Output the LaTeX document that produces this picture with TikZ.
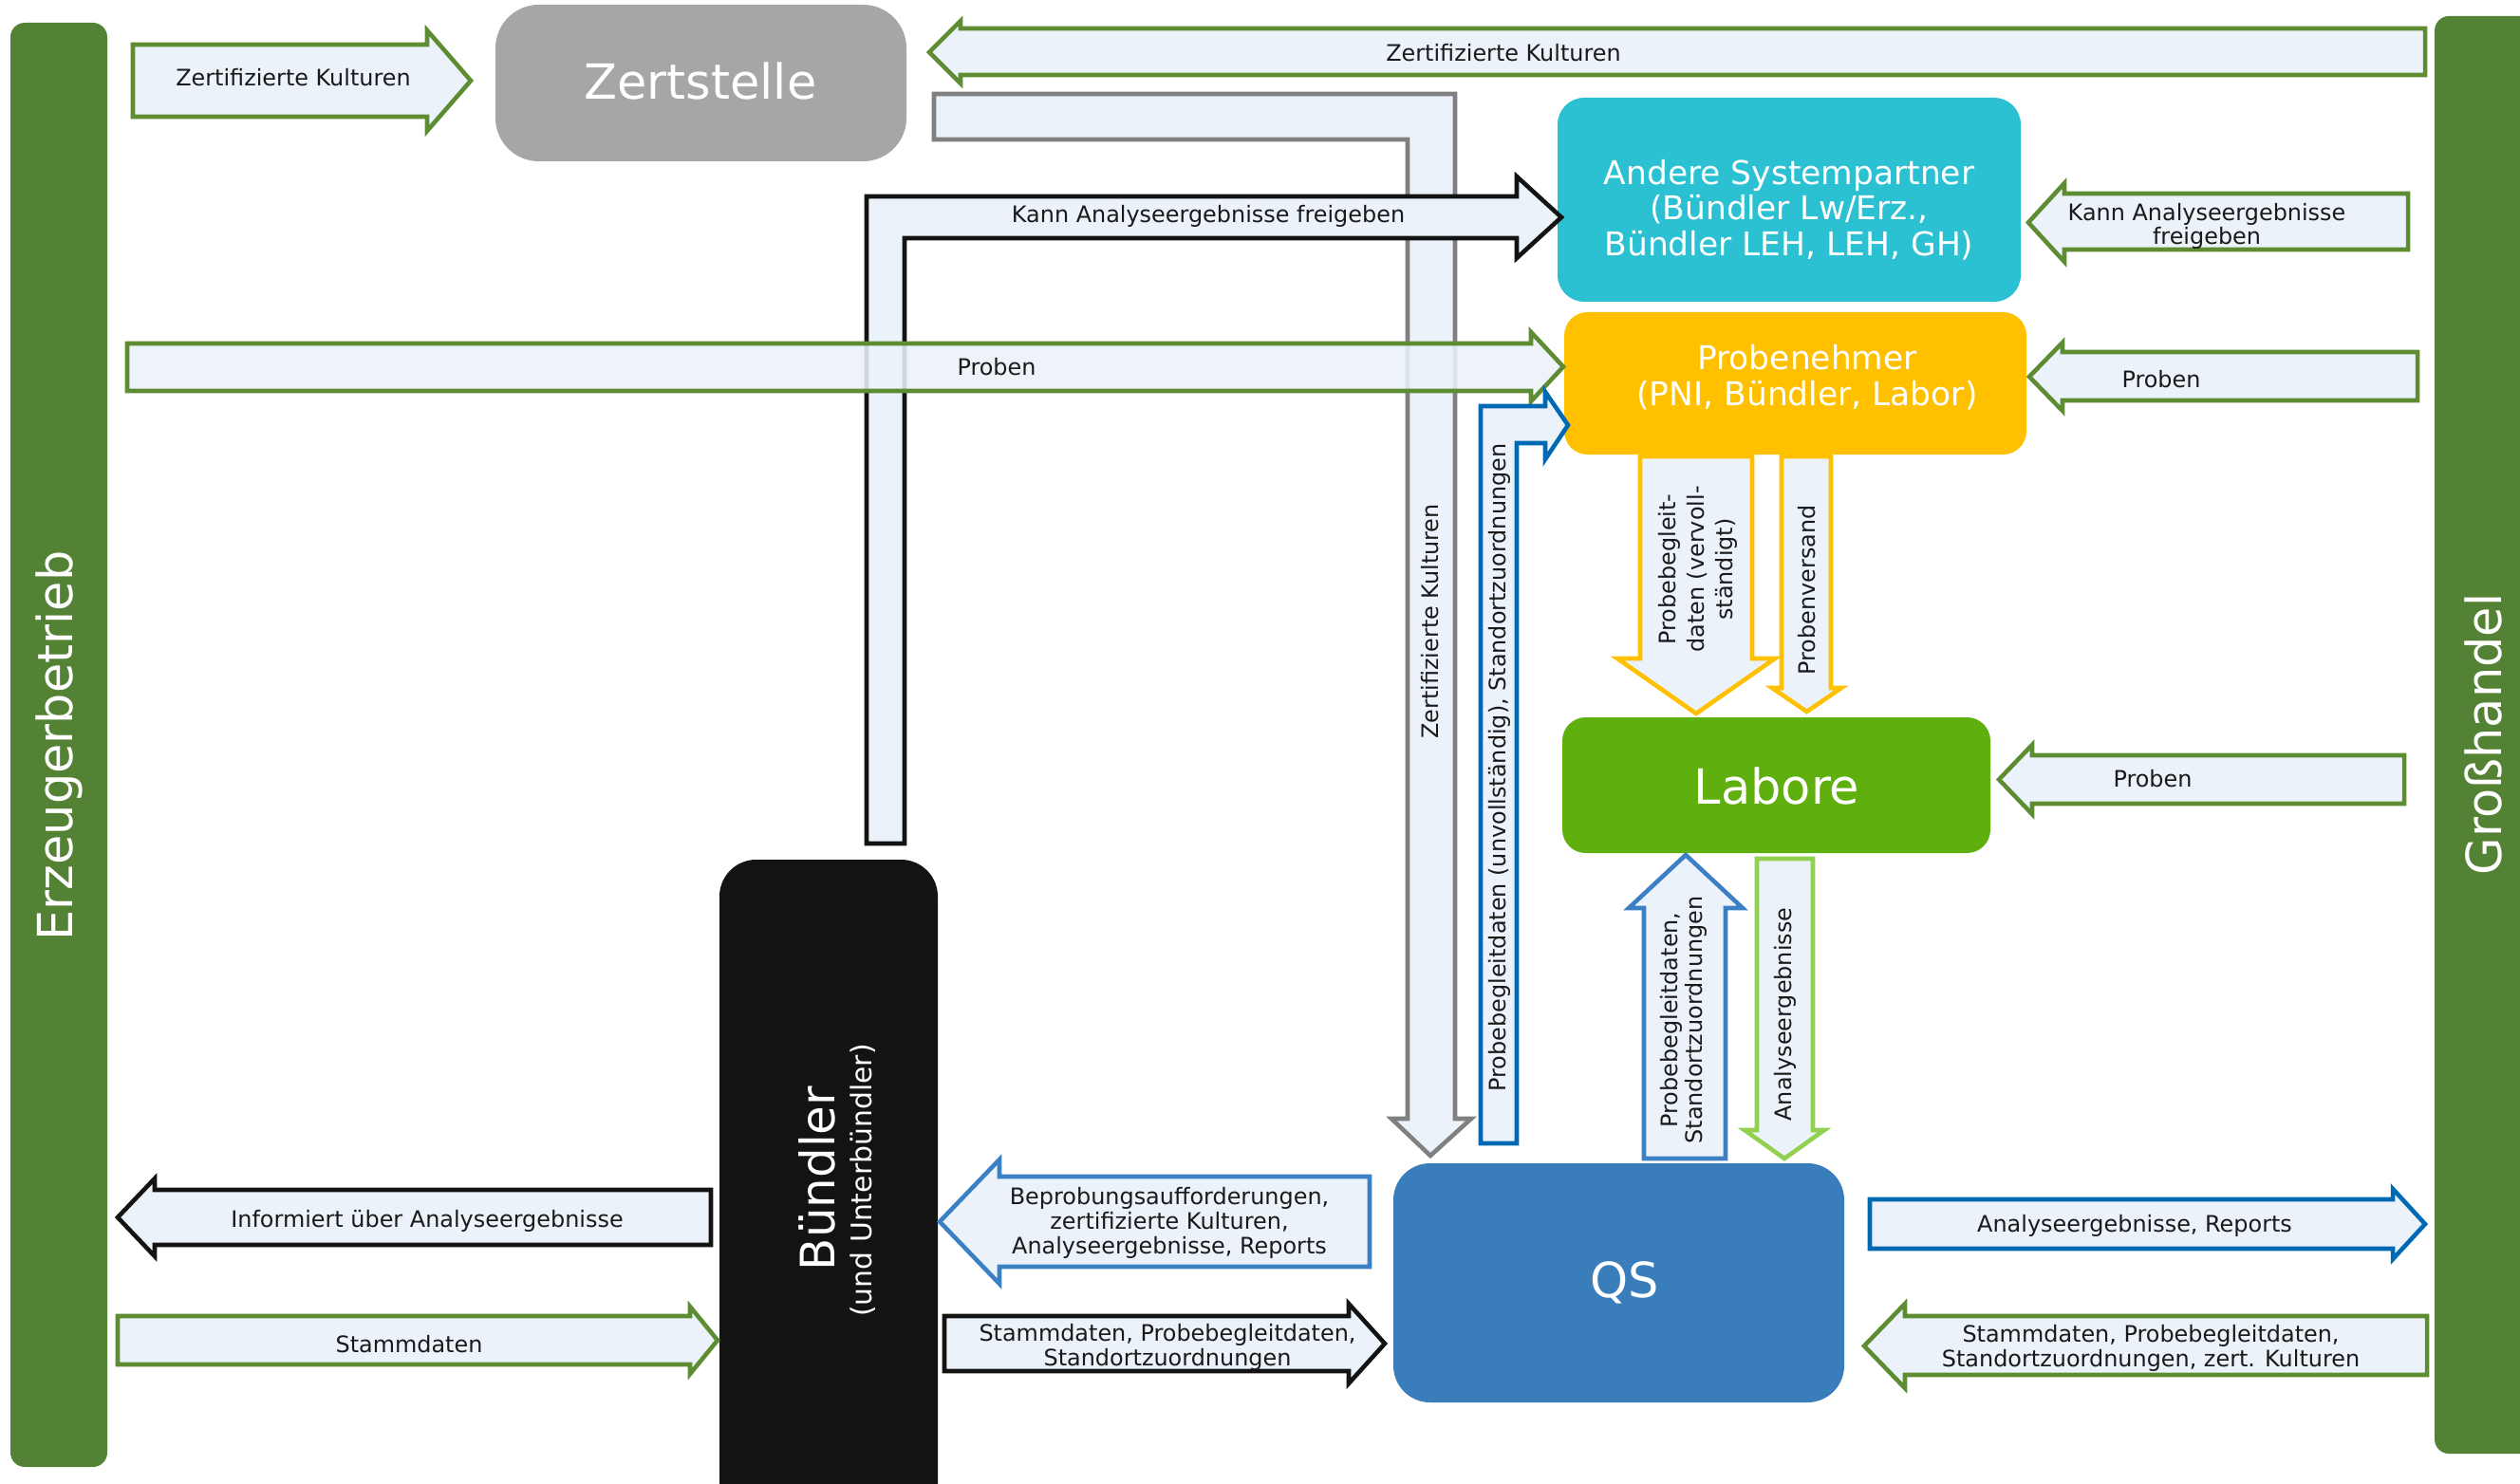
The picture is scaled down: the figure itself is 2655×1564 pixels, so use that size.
\documentclass[tikz,border=0pt]{standalone}
\usepackage{fontspec}
\setmainfont{DejaVu Sans}
\definecolor{bargreen}{HTML}{548235}
\definecolor{arrgreen}{HTML}{5E8C33}
\definecolor{arrfill}{HTML}{EBF2F9}
\definecolor{zgray}{HTML}{A6A6A6}
\definecolor{agray}{HTML}{808080}
\definecolor{cyanbox}{HTML}{2BC1D2}
\definecolor{orangebox}{HTML}{FFC000}
\definecolor{labgreen}{HTML}{5FB00F}
\definecolor{qsblue}{HTML}{3A7DBB}
\definecolor{darkblue}{HTML}{0069B4}
\definecolor{midblue}{HTML}{3B80C4}
\definecolor{lightgreen}{HTML}{92D050}
\definecolor{blackbox}{HTML}{131313}
\definecolor{txt}{HTML}{1A1A1A}
\newcommand\lbl{\fontsize{6.8}{7.3}\selectfont}
\newcommand\bigtxt{\fontsize{14.5}{16}\selectfont}
\newcommand\midtxt{\fontsize{9.8}{10.6}\selectfont}
% horizontal fat arrow: style, tail x, base x, tip x, body top, body bottom, head top, head bottom
\newcommand\harr[8]{\draw[#1] (#2,#5) -- (#3,#5) -- (#3,#7) -- (#4,{(#7+#8)/2}) -- (#3,#8) -- (#3,#6) -- (#2,#6) -- cycle;}
% vertical fat arrow: style, tail y, base y, tip y, body left, body right, head left, head right
\newcommand\varr[8]{\draw[#1] (#5,#2) -- (#5,#3) -- (#7,#3) -- ({(#7+#8)/2},#4) -- (#8,#3) -- (#6,#3) -- (#6,#2) -- cycle;}
\begin{document}
\begin{tikzpicture}[x=0.01cm,y=-0.01cm,
  fat/.style={fill=arrfill,line width=1.3pt,line join=miter,miter limit=10},
  fgreen/.style={fat,draw=arrgreen},
  fblack/.style={fat,draw=blackbox},
  fgray/.style={fat,draw=agray},
  fdblue/.style={fat,draw=darkblue},
  fmblue/.style={fat,draw=midblue},
  fyellow/.style={fat,draw=orangebox},
  flgreen/.style={fat,draw=lightgreen},
  lab/.style={font=\lbl,text=txt,inner sep=0pt,align=center},
  vlab/.style={lab,rotate=90},
  boxtxt/.style={text=white,align=center,inner sep=0pt}]
\useasboundingbox (0,0) rectangle (2655,1564);
\clip (0,0) rectangle (2655,1564);
\fill[white] (0,0) rectangle (2655,1564);

% side bars
\fill[bargreen,rounded corners=4.3pt] (11,24) rectangle (113,1546);
\node[boxtxt,font=\bigtxt,rotate=90] (erz) at (62,786) {Erzeugerbetrieb};
\fill[bargreen,rounded corners=4.3pt] (2565,17) rectangle (2700,1532);
\node[boxtxt,font=\bigtxt,rotate=90] (gh) at (2616,774) {Großhandel};

% boxes
\fill[zgray,rounded corners=13pt] (522,5) rectangle (955,170);
\node[boxtxt,font=\bigtxt] (zert) at (738,85) {Zertstelle};
\fill[cyanbox,rounded corners=8pt] (1641,103) rectangle (2129,318);
\node[boxtxt,font=\midtxt] (andere) at (1885,221) {Andere Systempartner\\(Bündler Lw/Erz.,\\Bündler LEH, LEH, GH)};
\fill[orangebox,rounded corners=7pt] (1648,329) rectangle (2135,479);
\node[boxtxt,font=\fontsize{9.8}{10.8}\selectfont] (probe) at (1904,398) {Probenehmer\\(PNI, Bündler, Labor)};
\fill[labgreen,rounded corners=7pt] (1646,756) rectangle (2097,899);
\node[boxtxt,font=\bigtxt] (labore) at (1872,828) {Labore};
\fill[qsblue,rounded corners=11pt] (1468,1226) rectangle (1943,1478);
\node[boxtxt,font=\bigtxt] (qs) at (1712,1352) {QS};
\fill[blackbox,rounded corners=11pt] (758,906) rectangle (988,1620);
\node[boxtxt,font=\fontsize{14.2}{15}\selectfont,rotate=90] (buendler) at (861,1242) {Bündler};
\node[boxtxt,font=\fontsize{8.5}{9}\selectfont,rotate=90] (unter) at (909,1244) {(und Unterbündler)};

% top arrows
\harr{fgreen}{140}{450}{496}{47}{123}{32}{138}
\node[lab] (l1) at (309,82) {Zertifizierte Kulturen};
\harr{fgreen}{2555}{1012}{979}{30}{79}{22}{88}
\node[lab] (l2) at (1584,56) {Zertifizierte Kulturen};

% gray L arrow
\draw[fgray] (984,99) -- (1533,99) -- (1533,1179) -- (1550,1179) -- (1507,1218) -- (1466,1179) -- (1483,1179) -- (1483,147) -- (984,147) -- cycle;
\node[vlab] (l3) at (1507,655) {Zertifizierte Kulturen};

% black L arrow
\draw[fblack] (913,889) -- (913,207) -- (1598,207) -- (1598,186) -- (1645,229) -- (1598,272) -- (1598,251) -- (953,251) -- (953,889) -- cycle;
\node[lab] (l4) at (1273,228) {Kann Analyseergebnisse freigeben};

% Proben big arrow
\harr{fgreen,fill opacity=0.88}{134}{1613}{1647}{362}{412}{350}{423}
\node[lab] (l5) at (1050,387) {Proben};

% blue L arrow
\draw[fdblue] (1560,1205) -- (1560,428) -- (1628,428) -- (1628,413) -- (1652,448) -- (1628,484) -- (1628,467) -- (1598,467) -- (1598,1205) -- cycle;
\node[vlab] (l6) at (1580,809) {Probebegleitdaten (unvollständig), Standortzuordnungen};

% right side arrows
\harr{fgreen}{2537}{2175}{2137}{204}{263}{193}{276}
\node[lab,font=\fontsize{6.8}{7.1}\selectfont] (l7) at (2325,238) {Kann Analyseergebnisse\\freigeben};
\harr{fgreen}{2547}{2173}{2138}{371}{422}{361}{433}
\node[lab] (l8) at (2277,400) {Proben};
\harr{fgreen}{2533}{2141}{2106}{796}{847}{785}{858}
\node[lab] (l9) at (2268,821) {Proben};

% yellow arrows
\varr{fyellow}{481}{694}{752}{1728}{1846}{1704}{1870}
\node[vlab,font=\fontsize{6.8}{8.6}\selectfont] (l10) at (1789,600) {Probebegleit-\\daten (vervoll-\\ständigt)};
\varr{fyellow}{481}{725}{750}{1877}{1929}{1867}{1940}
\node[vlab] (l11) at (1904,622) {Probenversand};

% arrows between Labore and QS
\varr{fmblue}{1221}{957}{901}{1732}{1818}{1716}{1836}
\node[vlab,font=\fontsize{6.8}{7.4}\selectfont] (l12) at (1774,1075) {Probebegleitdaten,\\Standortzuordnungen};
\varr{flgreen}{905}{1191}{1221}{1851}{1910}{1838}{1922}
\node[vlab] (l13) at (1881,1069) {Analyseergebnisse};

% QS <-> Großhandel
\harr{fdblue}{1970}{2521}{2555}{1264}{1316}{1253}{1327}
\node[lab] (l14) at (2249,1292) {Analyseergebnisse, Reports};
\harr{fgreen}{2557}{2007}{1964}{1387}{1449}{1374}{1463}
\node[lab] (l15) at (2266,1421) {Stammdaten, Probebegleitdaten,\\Standortzuordnungen, zert. Kulturen};

% Erzeuger <-> Bündler
\harr{fblack}{749}{163}{124}{1254}{1312}{1242}{1324}
\node[lab] (l16) at (450,1287) {Informiert über Analyseergebnisse};
\harr{fgreen}{124}{727}{756}{1387}{1438}{1377}{1448}
\node[lab] (l17) at (431,1417) {Stammdaten};

% Bündler <-> QS
\harr{fmblue}{1443}{1053}{990}{1240}{1335}{1222}{1353}
\node[lab] (l18) at (1232,1289) {Beprobungsaufforderungen,\\zertifizierte Kulturen,\\Analyseergebnisse, Reports};
\harr{fblack}{995}{1421}{1459}{1387}{1445}{1374}{1458}
\node[lab] (l19) at (1230,1420) {Stammdaten, Probebegleitdaten,\\Standortzuordnungen};
\end{tikzpicture}
\end{document}
